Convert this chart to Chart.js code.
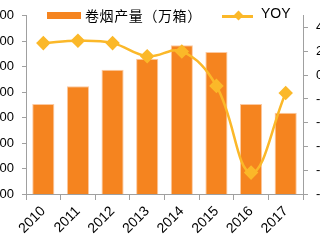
<!DOCTYPE html>
<html>
<head>
<meta charset="utf-8">
<script src="https://cdn.jsdelivr.net/npm/chart.js@4/dist/chart.umd.min.js"></script>
<style>
  html, body { margin: 0; padding: 0; width: 320px; height: 240px; overflow: hidden; background: #fff; }
  #wrap { position: absolute; left: -40px; top: 0; width: 390px; height: 240px; }
  .legend { position: absolute; top: 5px; font: 14px "Noto Sans CJK SC", "Liberation Sans", sans-serif; color: #000; white-space: nowrap; }
  .swatch-bar { position: absolute; left: 47px; top: 12px; width: 34px; height: 7px; background: #f5841f; }
  .swatch-line { position: absolute; left: 222px; top: 15px; width: 31px; height: 3px; background: #fbb829; }
  .swatch-dot { position: absolute; left: 235px; top: 12px; width: 7px; height: 7px; background: #fbb829; transform: rotate(45deg); }
</style>
</head>
<body>
<div id="wrap"><canvas id="combo" width="390" height="240"></canvas></div>
<div class="swatch-bar"></div>
<div class="legend" id="lg1" style="left:85px;letter-spacing:0.6px"></div>
<div class="swatch-line"></div>
<div class="swatch-dot"></div>
<div class="legend" id="lg2" style="left:261px;font-family:'Liberation Sans',sans-serif"></div>
<script>
const years = ['2010', '2011', '2012', '2013', '2014', '2015', '2016', '2017']
const seriesNames = ['卷烟产量（万箱）', 'YOY']
const output = [4708, 4846, 4977, 5062, 5169, 5115, 4708, 4638]
const yoy = [2.7, 2.9, 2.7, 1.6, 2.0, -0.9, -8.2, -1.5]
const leftTicks = [4000, 4200, 4400, 4600, 4800, 5000, 5200, 5400]
const rightTicks = [-10, -8, -6, -4, -2, 0, 2, 4]

document.getElementById('lg1').textContent = seriesNames[0]
document.getElementById('lg2').textContent = seriesNames[1]

const axisColor = '#a0a0a0'
const tickFont = { family: 'Liberation Sans', size: 13 }

new Chart('combo', {
    type: 'bar',
    data: {
        labels: years,
        datasets: [{
            type: 'line',
            label: seriesNames[1],
            data: yoy,
            yAxisID: 'y1',
            borderColor: '#fbb829',
            backgroundColor: '#fbb829',
            borderWidth: 2.5,
            tension: 0.4,
            pointStyle: 'rectRot',
            pointRadius: 5.5,
            order: 0
        }, {
            label: seriesNames[0],
            data: output,
            yAxisID: 'y',
            backgroundColor: '#f5841f',
            borderColor: '#fcc9a0',
            borderWidth: 1,
            barPercentage: 0.64,
            categoryPercentage: 1,
            order: 1
        }]
    },
    options: {
        responsive: false,
        animation: false,
        devicePixelRatio: 1,
        layout: { padding: { top: 13 } },
        plugins: { legend: { display: false }, tooltip: { enabled: false } },
        scales: {
            x: {
                offset: true,
                grid: { offset: true, drawOnChartArea: false, tickLength: 6, color: axisColor },
                border: { color: axisColor },
                ticks: { minRotation: 45, maxRotation: 45, color: '#000', font: { family: 'Liberation Sans', size: 14 }, padding: 3 },
                afterFit: s => { s.height = 46 }
            },
            y: {
                position: 'left',
                min: 4000,
                max: 5400,
                afterBuildTicks: s => { s.ticks = leftTicks.map(v => ({ value: v })) },
                grid: { drawOnChartArea: false, tickLength: 4, color: axisColor },
                border: { color: axisColor },
                ticks: { color: '#000', font: tickFont, padding: 8 },
                afterFit: s => { s.width = 66 }
            },
            y1: {
                position: 'right',
                min: -10,
                max: 5,
                afterBuildTicks: s => { s.ticks = rightTicks.map(v => ({ value: v })) },
                grid: { drawOnChartArea: false, tickLength: 5, color: axisColor },
                border: { color: axisColor },
                ticks: { color: '#000', font: tickFont, padding: 8, callback: v => v + '%' },
                afterFit: s => { s.width = 47 }
            }
        }
    }
});
</script>
</body>
</html>
